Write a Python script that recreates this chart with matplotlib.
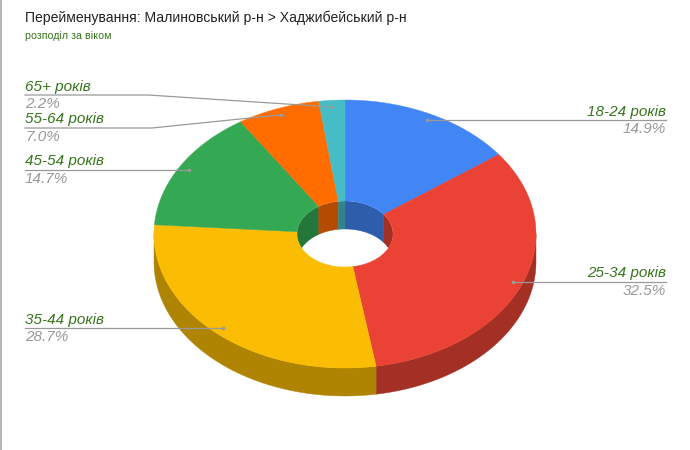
#!/usr/bin/env python3
import numpy as np
import matplotlib
matplotlib.use("Agg")
import matplotlib.pyplot as plt
from matplotlib.patches import Ellipse, Polygon, PathPatch
from matplotlib.path import Path
from matplotlib.colors import to_rgb

title = "Перейменування: Малиновський р-н > Хаджибейський р-н"
subtitle = "розподіл за віком"

# clockwise from 12 o'clock
labels = ["18-24 років", "25-34 років", "35-44 років", "45-54 років", "55-64 років", "65+ років"]
values = [14.9, 32.5, 28.7, 14.7, 7.0, 2.2]
colors = ["#4285F4", "#EA4335", "#FBBC04", "#34A853", "#FF6D01", "#46BDC6"]

# pie geometry in image pixels
CX, CY = 345, 234
RX, RY = 191, 134
HX, HY = 48, 33
DEPTH = 28
SHADE = 0.7

# label rows: text x, line y (None = same as dot), elbow x
label_side = ["right", "right", "left", "left", "left", "left"]
label_line_y = [None, None, None, None, 128, 95]
LEFT_X, RIGHT_X = 25, 666
ELBOW_X = [None, None, None, None, 152, 148]

plt.rcParams["font.family"] = ["Liberation Sans", "DejaVu Sans"]


def arc(t0, t1, rx, ry, dy=0):
    # t is in degrees clockwise from the top
    t = np.radians(np.linspace(t0, t1, max(int(abs(t1 - t0)) * 2, 2) + 1))
    return np.column_stack((CX + rx * np.sin(t), CY - ry * np.cos(t) + dy))


def dark(c):
    return tuple(v * SHADE for v in to_rgb(c))


def slice_face(t0, t1):
    outer = arc(t0, t1, RX, RY)
    inner = arc(t1, t0, HX, HY)
    pts = np.vstack((outer, inner, outer[:1]))
    codes = [Path.MOVETO] + [Path.LINETO] * (len(pts) - 2) + [Path.CLOSEPOLY]
    return Path(pts, codes)


def wall(t0, t1, rx, ry):
    top = arc(t0, t1, rx, ry)
    return np.vstack((top, top[::-1] + [0, DEPTH]))


fig = plt.figure(figsize=(6.9, 4.5), dpi=100)
ax = fig.add_axes([0, 0, 1, 1])
ax.set_xlim(0, 690)
ax.set_ylim(450, 0)
ax.axis("off")

edges = np.cumsum([0] + values) / sum(values) * 360
hole = Ellipse((CX, CY), 2 * HX, 2 * HY, fc="none", ec="none")
ax.add_patch(hole)

for i, c in enumerate(colors):
    t0, t1 = edges[i], edges[i + 1]

    # outer wall, only the front half shows
    a, b = max(t0, 90), min(t1, 270)
    if a < b:
        ax.add_patch(Polygon(wall(a, b, RX, RY), fc=dark(c), ec=dark(c), lw=0.3,
                             joinstyle="round", zorder=1))

    # inner wall, only the far half shows (t wraps round through 360)
    for a, b in ((t0, min(t1, 90)), (max(t0, 270), t1)):
        if a < b:
            p = Polygon(wall(a, b, HX, HY), fc=dark(c), ec=dark(c), lw=0.3,
                        joinstyle="round", zorder=1)
            ax.add_patch(p)
            p.set_clip_path(hole)

    ax.add_patch(PathPatch(slice_face(t0, t1), fc=c, ec=c, lw=0.3, joinstyle="round", zorder=2))

    # leader line, its dot and the two text rows
    mid = np.radians((t0 + t1) / 2)
    dx = CX + 0.95 * RX * np.sin(mid)
    dy = CY - 0.95 * RY * np.cos(mid)
    ly = label_line_y[i] if label_line_y[i] is not None else dy
    if label_side[i] == "left":
        tx, ha = LEFT_X, "left"
    else:
        tx, ha = RIGHT_X, "right"
    xs, ys = [tx], [ly]
    if ELBOW_X[i] is not None:
        xs.append(ELBOW_X[i])
        ys.append(ly)
    xs.append(dx)
    ys.append(dy)
    ax.plot(xs, ys, color="#999999", lw=0.9, zorder=3)
    ax.plot([dx], [dy], "o", ms=2.6, color="#999999", mew=0, zorder=3)
    ax.text(tx, ly - 1.5, labels[i], ha=ha, va="bottom", fontsize=11, style="italic",
            color="#38761D", zorder=4)
    ax.text(tx, ly + 2, f"{values[i]:.1f}%", ha=ha, va="top", fontsize=11, style="italic",
            color="#999999", zorder=4)

ax.text(25, 18, title, fontsize=10.1, color="#222222", va="center", ha="left")
ax.text(25, 36, subtitle, fontsize=7.7, color="#38761D", va="center", ha="left")

# screenshot border on the left
ax.plot([0.5, 0.5], [0, 450], color="#aaaaaa", lw=1.2, zorder=5)

fig.savefig("out.png", dpi=100)
